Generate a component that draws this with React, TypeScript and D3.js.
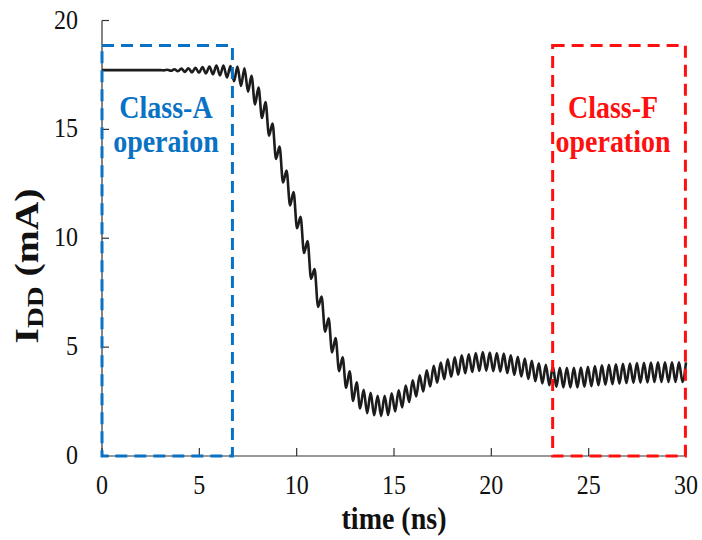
import React from "react";
import * as d3 from "d3";

// ---------- data ----------
const xTicks = [0, 5, 10, 15, 20, 25, 30];
const yTicks = [0, 5, 10, 15, 20];
const xTitle = "time (ns)";

// flat steady-state segment before the ringing starts
const baselineTime = [0, 3.0];
const baselineIdd = [17.72, 17.72];

// ringing waveform: alternating peak / trough values (mA), one every half period
const waveStart = 3.0; // ns
const halfPeriod = 0.18; // ns
const iddExtremes = [
  17.72, 17.71, 17.74, 17.69, 17.76, 17.67, 17.79, 17.64, 17.81, 17.62,
  17.83, 17.6, 17.86, 17.57, 17.89, 17.53, 17.93, 17.48, 17.93, 17.38,
  17.91, 17.21, 17.88, 17.0, 17.81, 16.73, 17.46, 16.15, 16.92, 15.52,
  16.25, 14.71, 15.27, 13.64, 14.21, 12.56, 13.11, 11.51, 12.12, 10.46,
  10.98, 9.32, 9.87, 8.14, 8.58, 6.85, 7.32, 5.71, 6.32, 4.76,
  5.42, 3.9, 4.53, 3.13, 3.89, 2.53, 3.38, 2.18, 3.04, 1.97,
  2.9, 1.87, 2.77, 1.84, 2.76, 1.88, 2.88, 2.05, 3.02, 2.23,
  3.24, 2.48, 3.48, 2.73, 3.71, 2.96, 3.93, 3.19, 4.14, 3.37,
  4.29, 3.53, 4.44, 3.64, 4.53, 3.73, 4.62, 3.8, 4.67, 3.86,
  4.73, 3.91, 4.77, 3.92, 4.75, 3.9, 4.73, 3.88, 4.7, 3.81,
  4.63, 3.73, 4.56, 3.65, 4.47, 3.54, 4.37, 3.43, 4.26, 3.33,
  4.19, 3.25, 4.12, 3.18, 4.05, 3.15, 4.05, 3.15, 4.05, 3.15,
  4.06, 3.18, 4.1, 3.21, 4.13, 3.25, 4.16, 3.27, 4.19, 3.3,
  4.21, 3.32, 4.23, 3.35, 4.25, 3.36, 4.27, 3.37, 4.28, 3.38,
  4.29, 3.4, 4.3, 3.4, 4.3, 3.4, 4.3, 3.4, 4.3, 3.4,
  4.3,
];

// annotation regions (ns, mA)
const classABox = [0, 6.7];
const classFBox = [23.15, 29.97];
const boxTopIdd = 18.85;
const classALabel = ["Class-A", "operaion"];
const classFLabel = ["Class-F", "operation"];

// ---------- layout ----------
const W = 702;
const H = 540;
const X0 = 102;
const X1 = 686;
const Y0 = 456;
const Y1 = 20.5;
const STRETCH = 1.15;
const BLUE = "#0a72c4";
const RED = "#ff1010";
const FONT = "'Liberation Serif', 'Times New Roman', serif";

export default function App() {
  const x = d3.scaleLinear().domain([0, 30]).range([X0, X1]);
  const y = d3.scaleLinear().domain([0, 20]).range([Y0, Y1]);

  const pts: [number, number][] = [];
  baselineTime.forEach((t, i) => pts.push([t, baselineIdd[i]]));
  iddExtremes.forEach((v, i) => {
    const t = waveStart + i * halfPeriod;
    if (i === 0 && t === baselineTime[baselineTime.length - 1]) return;
    pts.push([t, v]);
  });

  const line = d3
    .line<[number, number]>()
    .x((d) => x(d[0]))
    .y((d) => y(d[1]))
    .curve(d3.curveMonotoneX);

  const stretched = (
    key: string,
    px: number,
    py: number,
    content: React.ReactNode,
    opts: any = {}
  ) => (
    <g key={key} transform={`translate(${px},${py}) scale(1,${STRETCH})`}>
      <text x={0} y={0} fontFamily={FONT} {...opts}>
        {content}
      </text>
    </g>
  );

  const box = (b: number[], color: string, key: string) => (
    <rect
      key={key}
      x={x(b[0])}
      y={y(boxTopIdd)}
      width={x(b[1]) - x(b[0])}
      height={y(0) - y(boxTopIdd)}
      fill="none"
      stroke={color}
      strokeWidth={3}
      strokeDasharray="12 7"
    />
  );

  return (
    <svg
      width={W}
      height={H}
      style={{ position: "absolute", left: 0, top: 0, background: "#fff" }}
    >
      <rect x={0} y={0} width={W} height={H} fill="#fff" />

      {/* axes */}
      <line x1={X0} x2={X0} y1={y(20)} y2={y(0)} stroke="#333" strokeWidth={1.2} />
      <line x1={X0} x2={x(30)} y1={y(0)} y2={y(0)} stroke="#333" strokeWidth={1.2} />
      {yTicks.map((t) => (
        <g key={"yt" + t}>
          <line x1={X0} x2={X0 + 7} y1={y(t)} y2={y(t)} stroke="#333" strokeWidth={1.2} />
          {stretched("ytl" + t, 78, y(t) + 8, String(t), {
            fontSize: 24,
            textAnchor: "end",
            fill: "#111",
          })}
        </g>
      ))}
      {xTicks.map((t) => (
        <g key={"xt" + t}>
          <line x1={x(t)} x2={x(t)} y1={y(0)} y2={y(0) - 8} stroke="#333" strokeWidth={1.2} />
          {stretched("xtl" + t, x(t), 494, String(t), {
            fontSize: 24,
            textAnchor: "middle",
            fill: "#111",
          })}
        </g>
      ))}

      {/* axis titles */}
      {stretched("xtitle", x(15), 529, xTitle, {
        fontSize: 28,
        fontWeight: "bold",
        textAnchor: "middle",
        fill: "#111",
      })}
      <g transform={`translate(38,266) rotate(-90) scale(1.2,1)`}>
        <text
          x={0}
          y={0}
          fontFamily={FONT}
          fontWeight="bold"
          fontSize={33}
          textAnchor="middle"
          fill="#111"
        >
          I
          <tspan fontSize={24} dy={5}>
            DD
          </tspan>
          <tspan dy={-5}> (mA)</tspan>
        </text>
      </g>

      {/* waveform */}
      <path d={line(pts) || ""} fill="none" stroke="#1c1c1c" strokeWidth={2.6} strokeLinejoin="round" />

      {/* annotation boxes */}
      {box(classABox, BLUE, "boxA")}
      {box(classFBox, RED, "boxF")}

      {classALabel.map((s, i) =>
        stretched("la" + i, 166, 118 + i * 34, s, {
          fontSize: 28,
          fontWeight: "bold",
          textAnchor: "middle",
          fill: BLUE,
        })
      )}
      {classFLabel.map((s, i) =>
        stretched("lf" + i, 613, 118 + i * 34, s, {
          fontSize: 28,
          fontWeight: "bold",
          textAnchor: "middle",
          fill: RED,
        })
      )}
    </svg>
  );
}
